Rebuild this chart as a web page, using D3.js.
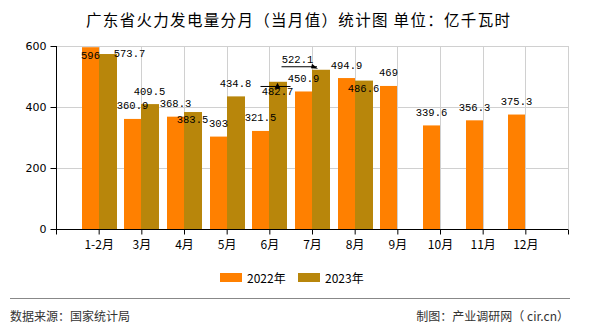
<!DOCTYPE html>
<html>
<head>
<meta charset="utf-8">
<script src="https://cdn.jsdelivr.net/npm/d3@7"></script>
<style>
  body { margin: 0; background: #fff; }
  svg { display: block; }
  text { font-family: "Noto Sans CJK SC", "Noto Sans", sans-serif; }
  text.val { font-family: "Liberation Mono", "DejaVu Sans Mono", monospace; font-size: 10.5px; }
</style>
</head>
<body>
<svg id="chart" width="590" height="330"></svg>
<script>
const months = ["1-2月", "3月", "4月", "5月", "6月", "7月", "8月", "9月", "10月", "11月", "12月"];
const values2022 = [596, 360.9, 368.3, 303, 321.5, 450.9, 494.9, 469, 339.6, 356.3, 375.3];
const values2023 = [573.7, 409.5, 383.5, 434.8, 482.7, 522.1, 486.6];
const yTicks = [0, 200, 400, 600];
const seriesNames = ["2022年", "2023年"];
const colors = ["#FF8000", "#B8860B"];

// hand placed labels, the rest sit centred above their bar
const labelNudge = {
  "0-0": { dy: 21 },
  "1-0": { dx: 22, dy: 12 },
  "1-2": { dy: 20.5 },
  "1-4": { dy: 22.7, leader: "up" },
  "1-5": { dx: -23, dy: 3, leader: "right" },
  "1-6": { dy: 21 }
};

const margin = { top: 46, right: 22, bottom: 101, left: 56 };
const width = 590, height = 330;
const svg = d3.select("#chart");

const x = d3.scaleLinear()
  .domain([0, months.length + 1])
  .range([margin.left, width - margin.right]);
const y = d3.scaleLinear()
  .domain([0, 600])
  .range([height - margin.bottom, margin.top]);
const bw = 17;

// title
svg.append("text")
  .attr("x", 86).attr("y", 26)
  .attr("textLength", 424)
  .attr("lengthAdjust", "spacing")
  .style("font-size", "15.5px")
  .attr("fill", "#000")
  .text("广东省火力发电量分月（当月值）统计图 单位：亿千瓦时");

// grid
svg.append("g")
  .selectAll("line")
  .data(yTicks.slice(1))
  .join("line")
  .attr("x1", x(0)).attr("x2", x(12))
  .attr("y1", d => y(d) + 0.5).attr("y2", d => y(d) + 0.5)
  .attr("stroke", "#d0d0d0");
svg.append("g")
  .selectAll("line")
  .data(d3.range(1, 13))
  .join("line")
  .attr("x1", d => Math.round(x(d)) + 0.5).attr("x2", d => Math.round(x(d)) + 0.5)
  .attr("y1", y(600)).attr("y2", y(0))
  .attr("stroke", "#d0d0d0");

// bars
const series = [values2022, values2023];
series.forEach((vals, s) => {
  svg.append("g")
    .selectAll("rect")
    .data(vals)
    .join("rect")
    .attr("x", (d, i) => Math.round(x(i + 1)) + (s === 0 ? -bw : 0))
    .attr("y", d => y(d))
    .attr("width", bw + (s === 1 ? 1 : 0))
    .attr("height", d => y(0) - y(d))
    .attr("fill", colors[s]);
});

// axes
const xAxis = d3.axisBottom(x)
  .tickValues(d3.range(0, 13))
  .tickSize(5)
  .tickFormat(d => months[d - 1] || "");
const gx = svg.append("g")
  .attr("transform", `translate(0,${y(0) + 0.5})`)
  .call(xAxis);
gx.select(".domain").attr("d", `M${x(0)},0H${x(12)}`).attr("stroke", "#000");
gx.selectAll(".tick line").attr("stroke", "#000");
gx.selectAll(".tick text")
  .attr("y", 11)
  .attr("fill", "#000")
  .style("font-size", "12px")
  .style("font-family", "'Noto Sans CJK SC', sans-serif");

const yAxis = d3.axisLeft(y)
  .tickValues(yTicks)
  .tickSize(6)
  .tickFormat(d3.format("d"));
const gy = svg.append("g")
  .attr("transform", `translate(${x(0) + 0.5},0)`)
  .call(yAxis);
gy.select(".domain").attr("d", `M0,${y(600)}V${y(0)}`).attr("stroke", "#000");
gy.selectAll(".tick line").attr("stroke", "#000");
gy.selectAll(".tick text")
  .attr("x", -10)
  .attr("fill", "#000")
  .style("font-size", "11px")
  .style("font-family", "'DejaVu Sans', sans-serif");

// value labels
const labels = svg.append("g").attr("fill", "#000");
series.forEach((vals, s) => {
  vals.forEach((v, i) => {
    const n = labelNudge[s + "-" + i] || {};
    const bx = Math.round(x(i + 1)) + (s === 0 ? -bw / 2 : bw / 2);
    const lx = bx + (n.dx || 0);
    const ly = y(v) - 9.5 + (n.dy || 0);
    labels.append("text")
      .attr("class", "val")
      .attr("x", lx).attr("y", ly)
      .attr("text-anchor", "middle")
      .text(v);
    if (n.leader === "right") {
      const x2 = Math.round(x(i + 1)) + 5;
      labels.append("line")
        .attr("x1", lx - 16).attr("x2", x2)
        .attr("y1", ly + 3.5).attr("y2", ly + 3.5)
        .attr("stroke", "#000");
      labels.append("path")
        .attr("d", `M${x2 - 5},${ly + 0.5}L${x2 + 1},${ly + 5.5}L${x2 - 6},${ly + 5}Z`)
        .attr("fill", "#000");
    } else if (n.leader === "up") {
      const top = y(v);
      labels.append("line")
        .attr("x1", lx - 17).attr("x2", lx + 13)
        .attr("y1", ly - 8.5).attr("y2", ly - 8.5)
        .attr("stroke", "#000");
      labels.append("path")
        .attr("d", `M${bx},${top + 1}L${bx - 3},${top + 7}L${bx + 3},${top + 7}Z`)
        .attr("fill", "#000");
    }
  });
});

// legend
const legend = svg.append("g").attr("transform", "translate(220,273)");
seriesNames.forEach((name, s) => {
  const g = legend.append("g").attr("transform", `translate(${s * 78},0)`);
  g.append("rect").attr("width", 22).attr("height", 9).attr("fill", colors[s]);
  g.append("text")
    .attr("x", 27).attr("y", 9.5)
    .style("font-size", "12px")
    .attr("fill", "#000")
    .text(name);
});

// footer
svg.append("line")
  .attr("x1", 10).attr("x2", 570)
  .attr("y1", 298.5).attr("y2", 298.5)
  .attr("stroke", "#888").attr("stroke-width", 1.2);
svg.append("text")
  .attr("x", 10).attr("y", 321)
  .style("font-size", "12px")
  .attr("fill", "#333")
  .text("数据来源：国家统计局");
svg.append("text")
  .attr("x", 569).attr("y", 321)
  .attr("text-anchor", "end")
  .style("font-size", "12px")
  .attr("fill", "#333")
  .text("制图：产业调研网（ cir.cn）");
</script>
</body>
</html>
